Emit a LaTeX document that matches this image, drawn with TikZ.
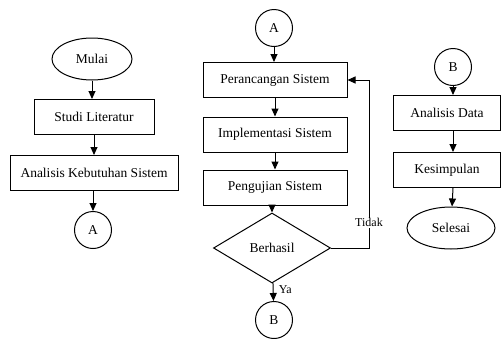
\documentclass[tikz,border=0pt]{standalone}
\usepackage{fontspec}
\setmainfont{Liberation Serif}
\usetikzlibrary{arrows.meta, positioning, shapes.geometric}

\begin{document}
\begin{tikzpicture}[x=1pt, y=-1pt,
    font=\fontsize{13.5}{15}\selectfont,
    every node/.style={line width=1pt},
    proses/.style={draw, rectangle, minimum height=35pt, inner sep=2pt},
    terminal/.style={draw, ellipse, inner sep=0pt, minimum height=42pt},
    konektor/.style={draw, circle, minimum size=37pt, inner sep=0pt},
    keputusan/.style={draw, diamond, aspect=1.67, minimum width=117pt, minimum height=70pt, inner sep=0pt},
    panah/.style={line width=1pt, -{Triangle[width=7pt,length=8pt]}}]
    \useasboundingbox (0,0) rectangle (504,338);

    % Define the first column
    \node[terminal, minimum width=80pt] (M1) at (92,59) {Mulai};
    \node[proses, minimum width=120pt] (M2) at (94,117) {Studi Literatur};
    \node[proses, minimum width=168pt] (M3) at (94,173) {Analisis Kebutuhan Sistem};
    \node[konektor] (M4) at (93,230) {A};

    % Define the second column
    \node[konektor] (P1) at (274,28) {A};
    \node[proses, minimum width=144pt] (P2) at (275,80) {Perancangan Sistem};
    \node[proses, minimum width=144pt] (P3) at (275,134.5) {Implementasi Sistem};
    \node[proses, minimum width=144pt] (P4) at (275,187.5) {Pengujian Sistem};
    \node[keputusan] (P5) at (272,248) {Berhasil};
    \node[konektor] (P6) at (274,320) {B};
    \coordinate (T1) at (369,248);
    \coordinate (T2) at (369,80);

    % Define the third column
    \node[konektor] (S1) at (453,67) {B};
    \node[proses, minimum width=107pt] (S2) at (447,113) {Analisis Data};
    \node[proses, minimum width=107pt] (S3) at (447,170) {Kesimpulan};
    \node[terminal, minimum width=88pt] (S4) at (451,228) {Selesai};

    % Draw arrows
    \draw[panah] (M1) -- (M1 |- M2.north);
    \draw[panah] (M2) -- (M2 |- M3.north);
    \draw[panah] (M3.south -| M4) -- (M4);

    \draw[panah] (P1) -- (P1 |- P2.north);
    \draw[panah] (P2) -- (P3);
    \draw[panah] (P3) -- (P4);
    \draw[panah] (P4.south -| P5) -- (P5);
    \draw[panah] (P5) -- node[pos=0.35, right=2pt, font=\fontsize{12}{13}\selectfont] {Ya} (P6);
    \draw[panah] (P5.east) -- (T1) -- node[pos=0.15, fill=white, inner sep=1pt, font=\fontsize{12}{13}\selectfont] {Tidak} (T2) -- (P2.east);

    \draw[panah] (S1) -- (S1 |- S2.north);
    \draw[panah] (S2.south -| S1) -- (S1 |- S3.north);
    \draw[panah] (S3.south -| S1) -- (S4);
\end{tikzpicture}
\end{document}
